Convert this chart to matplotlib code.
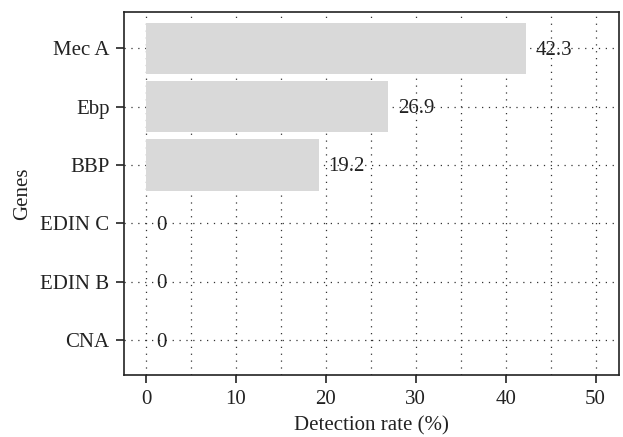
import matplotlib.pyplot as plt
from matplotlib.ticker import MultipleLocator

genes = ['Mec A', 'Ebp', 'BBP', 'EDIN C', 'EDIN B', 'CNA']
rates = [42.3, 26.9, 19.2, 0, 0, 0]
rate_labels = ['42.3', '26.9', '19.2', '0', '0', '0']
x_ticks = [0, 10, 20, 30, 40, 50]


def plot_bars():
    plt.rcParams['font.family'] = ['Liberation Serif', 'DejaVu Serif']
    fig = plt.figure(figsize=(6.23, 4.37), dpi=100)
    ax = fig.add_axes([124 / 623, 1 - 375 / 437, 495 / 623, 363 / 437])

    pos = list(range(len(genes)))
    ax.barh(pos, rates, height=0.88, color='#d9d9d9', zorder=2)
    for p, r, lab in zip(pos, rates, rate_labels):
        ax.annotate(lab, (r, p), xytext=(7, -1.5), textcoords='offset points',
                    ha='left', va='center', fontsize=15, color='#222222', zorder=3)

    ax.set_yticks(pos)
    ax.set_yticklabels(genes, fontsize=15)
    ax.set_xticks(x_ticks)
    ax.set_xticklabels([str(t) for t in x_ticks], fontsize=15)
    ax.xaxis.set_minor_locator(MultipleLocator(5))
    ax.set_xlim(-2.45, 52.6)
    ax.set_ylim(5.6, -0.62)

    ax.grid(True, which='both', axis='x', linestyle=(0, (1, 4.5)), color='#333333', linewidth=0.9, zorder=1)
    ax.grid(True, which='major', axis='y', linestyle=(0, (1, 4.5)), color='#333333', linewidth=0.9, zorder=1)
    ax.set_axisbelow(True)
    ax.tick_params(which='major', direction='out', length=6, width=1.2, colors='#222222')
    ax.tick_params(axis='y', pad=4.5)
    ax.tick_params(axis='x', pad=5)
    ax.tick_params(which='minor', length=0)
    for s in ax.spines.values():
        s.set_linewidth(1.2)
        s.set_color('#222222')

    ax.set_xlabel('Detection rate (%)', fontsize=15, labelpad=5, color='#222222')
    ax.set_ylabel('Genes', fontsize=15, labelpad=6, color='#222222')

    plt.savefig('out.png', dpi=100)
    plt.clf()


def main():
    plot_bars()


if __name__ == "__main__":
    main()
